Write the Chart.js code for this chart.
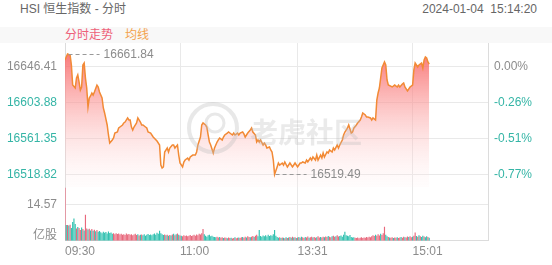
<!DOCTYPE html>
<html>
<head>
<meta charset="utf-8">
<script src="https://cdn.jsdelivr.net/npm/chart.js@4.4.1/dist/chart.umd.min.js"></script>
<style>
body { margin: 0; background: #fff; font-family: Arial, "Liberation Sans", "Noto Sans CJK SC", sans-serif; }
#wrap { position: relative; width: 552px; height: 265px; overflow: hidden; }
.t { position: absolute; font-size: 12px; line-height: 14px; white-space: pre; }
#tabbar { position: absolute; left: 0; top: 27px; width: 552px; height: 16px; background: #f8f8f8; }
canvas { position: absolute; left: 0; }
</style>
</head>
<body>
<div id="wrap">
  <div class="t" style="left:20px;top:2px;color:#666">HSI 恒生指数 - 分时</div>
  <div class="t" style="right:15px;top:2px;color:#666">2024-01-04  15:14:20</div>
  <div id="tabbar"></div>
  <div class="t" style="left:65px;top:28px;color:#ee6078">分时走势</div>
  <div class="t" style="left:125px;top:28px;color:#f3a24c">均线</div>
  <canvas id="main" width="552" height="144" style="top:43px"></canvas>
  <canvas id="vol" width="552" height="78" style="top:187px"></canvas>
</div>
<script>
// previous close and axis ticks
const prevClose = 16646.41;
const priceTicks = [16646.41, 16603.88, 16561.35, 16518.82];
const volTicks = [14.57];
const timeTicks = [0, 90, 182, 272];
const timeLabels = ['09:30', '11:00', '13:31', '15:01'];

// minute index (0 = 09:30, 150 = 12:00, 151 = 13:00) and price
const priceIdx = [0,2,4,5,6,8,9,10,11,12,13,14,15,16,17,18,19,20,21,22,23,25,26,27,29,30,31,33,34,35,
  37,38,39,41,42,43,45,46,47,49,50,51,52,53,54,56,57,59,60,61,63,64,65,67,69,72,74,75,76,77,
  78,80,81,82,84,85,86,88,89,90,92,93,94,96,97,98,100,102,103,104,106,107,108,110,111,112,113,114,116,117,
  119,120,121,123,124,125,127,128,129,131,132,133,135,136,137,139,140,141,142,143,145,146,147,149,150,
  151,152,153,155,156,157,158,160,161,162,163,164,166,167,168,170,171,172,174,175,176,178,179,180,
  182,183,184,185,186,188,189,190,192,193,194,196,197,198,200,201,202,203,205,206,207,209,210,211,
  213,214,215,217,218,219,221,222,224,225,226,228,229,231,232,233,235,236,237,239,240,241,243,244,
  245,246,247,248,250,251,252,253,256,258,260,261,262,264,265,266,268,270,272,273,274,276,277,279,
  280,281,282,283,284,285];
const priceVal = [16654.7,16661.84,16660.6,16648.8,16625.1,16621.6,16633.4,16637.0,16628.7,16619.2,
  16622.8,16648.8,16651.1,16633.4,16621.6,16599.2,16609.8,16612.2,16615.7,16613.3,16616.9,16625.1,16622.8,16616.9,
  16609.8,16598.0,16592.1,16577.9,16566.1,16556.6,16560.2,16562.5,16568.4,16569.6,16574.3,16575.5,16577.9,
  16580.3,16581.4,16586.2,16583.8,16583.8,16575.5,16572.0,16575.5,16580.3,16586.2,16581.4,16577.9,16577.9,
  16575.5,16574.3,16569.6,16568.4,16563.7,16558.9,16554.3,16530.6,16527.1,16528.3,
  16546.0,16550.7,16546.0,16550.7,16554.3,16554.3,16550.7,16554.3,16542.4,16533.0,16528.3,16534.2,16536.5,
  16538.9,16536.5,16540.1,16542.4,16542.4,16546.0,16554.3,16563.7,16577.9,16580.3,16577.9,16575.5,16566.1,
  16557.8,16554.3,16544.8,16550.7,
  16557.8,16560.2,16562.5,16560.2,16563.7,16566.1,16568.4,16569.6,16568.4,16566.1,16568.4,16566.1,16568.4,
  16566.1,16568.4,16569.6,16567.3,16563.7,16566.1,16568.4,16572.0,16574.3,16569.6,16566.1,16557.8,
  16560.2,16557.8,16560.2,16554.3,16556.6,16554.3,16550.7,16551.9,16548.4,16546.0,16536.5,16519.49,16528.3,
  16533.0,16530.6,16533.0,16530.6,16534.2,16528.3,16530.6,16533.0,16528.3,16530.6,16533.0,
  16528.3,16530.6,16533.0,16533.0,16534.2,16533.0,16536.5,16534.2,16538.9,16536.5,16540.1,16536.5,16542.4,
  16536.5,16542.4,16538.9,16544.8,16540.1,16546.0,16544.8,16548.4,16546.0,16550.7,16548.4,
  16554.3,16550.7,16554.3,16560.2,16566.1,16569.6,16574.3,16577.9,16568.4,16569.6,16574.3,16577.9,16580.3,
  16583.8,16587.3,16592.1,16589.7,16587.3,16587.3,16586.2,16583.8,16586.2,16583.8,16607.4,
  16615.7,16621.6,16633.4,16645.2,16652.3,16648.8,16631.1,16625.1,16622.8,16625.1,16622.8,16625.1,16622.8,
  16626.3,16627.5,16622.8,16618.1,16622.8,16625.1,16642.9,16651.1,16646.4,16648.8,16651.1,
  16645.2,16654.7,16658.2,16657.0,16652.3,16649.9];

// volume per minute (亿股), index 0..285
const volume = [
  21.5,6.4,6.4,6.2,6.5,5.2,7.6,9.0,6.8,5.0,5.6,5.2,4.4,5.4,4.8,4.2,10.6,5.0,4.6,4.9,
  4.2,4.8,4.0,4.5,3.8,4.4,3.6,3.9,3.4,3.0,3.6,3.2,3.5,2.9,3.7,3.1,3.3,2.8,3.0,2.6,
  3.0,2.7,2.9,2.5,2.8,2.4,2.6,2.3,2.9,2.5,2.7,2.4,2.6,2.2,2.5,2.8,2.3,2.6,2.1,2.4,
  2.5,2.2,2.6,2.0,2.4,2.7,2.3,2.5,2.2,2.6,2.9,2.4,3.2,2.8,4.0,3.0,2.6,2.3,2.5,2.2,
  2.4,2.0,2.3,2.1,2.5,2.8,2.2,2.6,2.9,2.4,2.1,2.0,1.8,2.2,1.9,2.1,1.8,2.0,2.3,1.9,
  2.1,2.4,2.0,2.5,2.2,2.8,2.5,3.0,4.8,2.6,2.0,1.6,2.2,2.4,1.8,2.0,1.6,1.5,1.4,1.6,
  1.3,1.5,1.2,1.4,1.1,1.3,1.2,1.0,1.3,1.1,1.2,0.9,1.1,1.4,1.0,1.2,1.3,1.1,1.4,1.5,
  1.2,1.6,1.3,1.8,1.5,1.4,1.6,1.9,1.5,2.0,2.4,1.8,4.4,1.9,1.6,2.1,1.8,2.2,1.7,2.4,
  1.9,2.2,2.0,2.6,4.4,2.0,1.5,1.2,1.4,1.1,1.3,1.2,1.0,1.4,1.1,1.3,1.5,1.2,1.6,1.3,
  1.4,1.1,1.3,1.5,1.2,1.6,1.4,1.1,1.5,1.3,1.7,1.2,1.4,1.6,1.3,1.5,1.2,1.4,1.8,1.3,
  1.5,1.3,1.6,1.4,1.7,1.5,1.9,1.6,1.4,1.8,2.0,1.6,1.8,2.2,1.7,1.9,2.1,1.6,2.4,3.6,
  2.2,2.0,1.8,2.3,1.5,1.3,1.4,1.2,1.1,1.3,1.0,1.2,1.4,1.1,1.3,1.2,1.5,1.3,1.6,1.4,
  1.8,2.2,1.9,2.4,2.0,2.6,2.1,2.8,2.3,3.0,5.7,2.4,1.8,1.5,1.3,1.2,1.4,1.1,1.3,1.2,
  1.4,1.1,1.3,1.5,1.2,1.6,1.4,1.3,1.7,1.5,1.8,1.4,1.6,2.0,3.3,1.9,1.6,2.2,1.8,1.5,
  2.0,1.7,1.4,1.8,1.5,1.2];
// 1 = red (up minute), 0 = green (down minute)
const volUp = [
  1,0,1,0,1,0,0,0,0,1,0,1,1,0,1,0,1,1,0,1,
  0,1,0,1,0,1,0,0,0,0,0,0,0,0,0,0,0,0,1,1,
  1,1,1,1,1,1,1,1,1,1,1,1,1,1,1,1,1,0,1,0,
  1,0,0,0,0,0,0,0,0,0,0,0,0,0,0,0,0,0,1,0,
  1,0,1,0,1,0,1,0,1,0,1,0,1,1,1,1,1,1,1,1,
  1,1,1,1,1,1,1,1,1,0,0,0,0,0,0,0,0,0,0,1,
  1,0,1,1,0,1,1,0,1,1,0,1,1,0,1,1,0,1,1,0,
  1,1,0,1,1,0,1,1,0,1,1,0,0,0,0,0,0,0,0,0,
  0,0,0,0,0,0,0,0,1,0,1,0,1,0,1,0,1,0,1,0,
  1,0,1,0,1,0,1,1,0,1,1,0,1,1,0,1,1,0,1,1,
  0,1,1,0,1,1,0,1,1,0,1,1,0,1,1,0,0,0,0,0,
  0,0,0,0,0,0,0,1,1,1,1,1,1,1,1,1,1,1,1,1,
  1,1,1,0,1,1,1,0,1,1,1,0,0,1,0,1,1,0,1,1,
  0,1,1,0,1,1,0,1,1,0,1,1,0,1,1,0,1,0,1,0,
  0,1,0,0,1,0];

Chart.defaults.font.family = 'Arial, "Liberation Sans", "Noto Sans CJK SC", sans-serif';
Chart.defaults.font.size = 12;
Chart.defaults.animation = false;

const GRID = '#e9e9e9';
const BORDER = '#dcdcdc';
const GREY = '#8c8c8c';
const TEAL = '#35b5a6';
const TOTAL_MIN = 331;

const noPad = s => { s.paddingTop = 0; s.paddingBottom = 0; s.paddingLeft = 0; s.paddingRight = 0; };

const watermark = {
  id: 'watermark',
  afterDatasetsDraw(chart) {
    const c = chart.ctx;
    c.save();
    c.strokeStyle = 'rgba(190,190,190,0.35)';
    c.lineWidth = 4;
    c.beginPath();
    c.arc(213, 85, 24, 0, Math.PI * 2);
    c.stroke();
    c.lineWidth = 3;
    c.beginPath();
    c.arc(215, 80, 9, 0, Math.PI * 2);
    c.stroke();
    c.fillStyle = 'rgba(185,185,185,0.3)';
    c.font = 'bold 28px "Noto Sans CJK SC", sans-serif';
    c.textBaseline = 'middle';
    c.fillText('老虎社区', 250, 89);
    c.restore();
  }
};

const extremes = {
  id: 'extremes',
  afterDatasetsDraw(chart) {
    const x = chart.scales.x, y = chart.scales.y;
    const hi = priceVal.indexOf(Math.max(...priceVal));
    const lo = priceVal.indexOf(Math.min(...priceVal));
    const c = chart.ctx;
    c.save();
    c.strokeStyle = '#999';
    c.lineWidth = 1;
    c.setLineDash([4, 3]);
    c.fillStyle = GREY;
    c.font = Chart.defaults.font.size + 'px ' + Chart.defaults.font.family;
    c.textBaseline = 'middle';
    [hi, lo].forEach(i => {
      const px = x.getPixelForValue(priceIdx[i]);
      const py = Math.round(y.getPixelForValue(priceVal[i])) + 0.5;
      c.beginPath();
      c.moveTo(px + 1, py);
      c.lineTo(px + 32, py);
      c.stroke();
      c.fillText(priceVal[i].toFixed(2), px + 36, py);
    });
    c.restore();
  }
};

new Chart(document.getElementById('main'), {
  type: 'line',
  data: {
    datasets: [{
      data: priceIdx.map((m, i) => ({ x: m, y: priceVal[i] })),
      borderColor: '#f28a35',
      borderWidth: 1.5,
      pointRadius: 0,
      tension: 0,
      fill: 'start',
      backgroundColor: ctx => {
        const area = ctx.chart.chartArea;
        if (!area) return 'rgba(248,100,100,0.5)';
        const g = ctx.chart.ctx.createLinearGradient(0, area.top, 0, area.bottom);
        g.addColorStop(0, 'rgba(247,88,88,0.92)');
        g.addColorStop(1, 'rgba(255,235,235,0.12)');
        return g;
      }
    }]
  },
  options: {
    responsive: false,
    layout: { padding: 0 },
    plugins: { legend: { display: false }, tooltip: { enabled: false } },
    scales: {
      x: {
        type: 'linear', min: 0, max: TOTAL_MIN,
        afterBuildTicks: s => { s.ticks = timeTicks.map(v => ({ value: v })); },
        afterFit: s => { s.height = 0; noPad(s); },
        ticks: { display: false },
        grid: { color: GRID, drawTicks: false, offset: false },
        border: { display: false }
      },
      y: {
        position: 'left', min: 16504.64, max: 16674.76,
        afterBuildTicks: s => { s.ticks = priceTicks.map(v => ({ value: v })); },
        afterFit: s => { s.width = 65; noPad(s); },
        ticks: {
          padding: 8,
          callback: v => v.toFixed(2),
          color: ctx => ctx.tick.value === prevClose ? GREY : TEAL
        },
        grid: { color: GRID, drawTicks: false },
        border: { color: BORDER }
      },
      pct: {
        position: 'right', min: 16504.64, max: 16674.76,
        afterBuildTicks: s => { s.ticks = priceTicks.map(v => ({ value: v })); },
        afterFit: s => { s.width = 64; noPad(s); },
        ticks: {
          padding: 6,
          callback: v => ((v - prevClose) / prevClose * 100).toFixed(2) + '%',
          color: ctx => ctx.tick.value === prevClose ? GREY : TEAL
        },
        grid: { drawOnChartArea: false, drawTicks: false },
        border: { color: BORDER }
      }
    }
  },
  plugins: [watermark, extremes]
});

const unitLabel = {
  id: 'unitLabel',
  afterDraw(chart) {
    const c = chart.ctx;
    c.save();
    c.fillStyle = GREY;
    c.font = Chart.defaults.font.size + 'px ' + Chart.defaults.font.family;
    c.textAlign = 'right';
    c.textBaseline = 'middle';
    c.fillText('亿股', chart.chartArea.left - 8, chart.chartArea.bottom - 5);
    c.restore();
  }
};

new Chart(document.getElementById('vol'), {
  type: 'bar',
  data: {
    datasets: [{
      data: volume.map((v, i) => ({ x: i, y: v })),
      backgroundColor: volUp.map(u => u ? '#e8687c' : '#33c2b1'),
      borderWidth: 0,
      barPercentage: 1,
      categoryPercentage: 0.9
    }]
  },
  options: {
    responsive: false,
    layout: { padding: 0 },
    plugins: { legend: { display: false }, tooltip: { enabled: false } },
    scales: {
      x: {
        type: 'linear', min: 0, max: TOTAL_MIN, offset: false,
        afterBuildTicks: s => { s.ticks = timeTicks.map(v => ({ value: v })); },
        afterFit: s => { s.height = 24.3; noPad(s); },
        ticks: {
          padding: 4, align: 'start', maxRotation: 0, autoSkip: false, color: GREY,
          callback: (v, i) => timeLabels[i]
        },
        grid: { color: GRID, drawTicks: false, offset: false },
        border: { color: BORDER }
      },
      y: {
        position: 'left', min: 0, max: 21.855,
        afterBuildTicks: s => { s.ticks = volTicks.map(v => ({ value: v })); },
        afterFit: s => { s.width = 65; noPad(s); },
        ticks: { padding: 8, color: GREY, callback: v => v.toFixed(2) },
        grid: { color: GRID, drawTicks: false },
        border: { color: BORDER }
      },
      r: {
        position: 'right', min: 0, max: 21.855,
        afterFit: s => { s.width = 64; noPad(s); },
        ticks: { display: false },
        grid: { drawOnChartArea: false, drawTicks: false },
        border: { color: BORDER }
      }
    }
  },
  plugins: [unitLabel]
});
</script>
</body>
</html>
